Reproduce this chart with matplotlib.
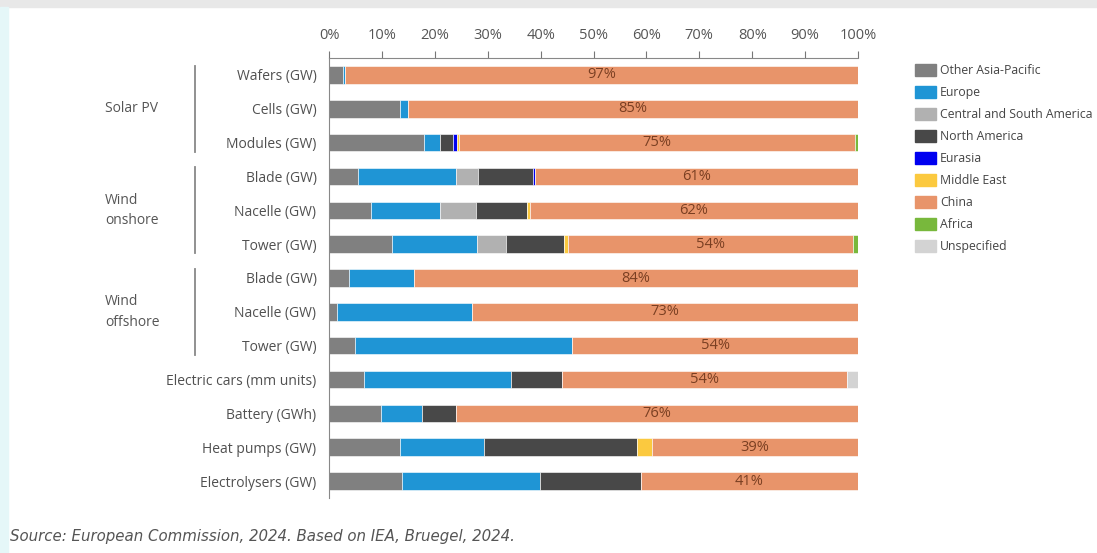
import matplotlib.pyplot as plt
import matplotlib.patches as mpatches
import numpy as np

plt.rcParams['font.family'] = ['Open Sans', 'DejaVu Sans']

rows = ["Wafers (GW)", "Cells (GW)", "Modules (GW)",
        "Blade (GW)", "Nacelle (GW)", "Tower (GW)",
        "Blade (GW)", "Nacelle (GW)", "Tower (GW)",
        "Electric cars (mm units)", "Battery (GWh)", "Heat pumps (GW)", "Electrolysers (GW)"]

regions = ["Other Asia-Pacific", "Europe", "Central and South America", "North America",
           "Eurasia", "Middle East", "China", "Africa", "Unspecified"]
colors = ["#808080", "#1f95d5", "#b1b1b1", "#484848",
          "#0000f0", "#fbc93f", "#e8946a", "#78b83c", "#d3d3d3"]

# shares in %, one list per region, in row order
other_ap = [2.7, 13.5, 18.0, 5.5, 8.0, 12.0, 3.8, 1.5, 5.0, 6.6, 9.8, 13.5, 13.8]
europe   = [0.3, 1.5, 3.0, 18.5, 13.0, 16.0, 12.2, 25.5, 41.0, 27.8, 7.8, 15.8, 26.0]
csa      = [0, 0, 0, 4.2, 6.8, 5.5, 0, 0, 0, 0, 0, 0, 0]
n_am     = [0, 0, 2.5, 10.3, 9.7, 11.0, 0, 0, 0, 9.6, 6.4, 29.0, 19.2]
eurasia  = [0, 0, 0.7, 0.5, 0, 0, 0, 0, 0, 0, 0, 0, 0]
mid_east = [0, 0, 0.3, 0, 0.5, 0.6, 0, 0, 0, 0, 0, 2.7, 0]
china    = [97, 85, 75, 61, 62, 54, 84, 73, 54, 54, 76, 39, 41]
africa   = [0, 0, 0.5, 0, 0, 0.9, 0, 0, 0, 0, 0, 0, 0]
unspec   = [0, 0, 0, 0, 0, 0, 0, 0, 0, 2.0, 0, 0, 0]
shares = [other_ap, europe, csa, n_am, eurasia, mid_east, china, africa, unspec]

groups = [("Solar PV", 0, 2), ("Wind\nonshore", 3, 5), ("Wind\noffshore", 6, 8)]

fig = plt.figure(figsize=(10.97, 5.53), dpi=100)
ax = fig.add_axes([329 / 1097, 1 - 498 / 553, 529 / 1097, 440 / 553])

y = np.arange(len(rows))
left = np.zeros(len(rows))
for name, vals, c in zip(regions, shares, colors):
    vals = np.array(vals, dtype=float)
    ax.barh(y, vals, left=left, height=0.52, color=c, label=name,
            edgecolor="white", linewidth=0.4)
    if name == "China":
        for yi, l, v in zip(y, left, vals):
            ax.text(l + v / 2, yi, f"{v:.0f}%", ha="center", va="center",
                    fontsize=10.5, color="#7a3f22")
    left += vals

ax.set_xlim(0, 100)
ax.set_ylim(len(rows) - 0.5, -0.5)
ax.set_yticks(y)
ax.set_yticklabels(rows, fontsize=10, color="#505050")
ax.tick_params(axis="y", length=0, pad=9)
ax.xaxis.tick_top()
ax.set_xticks(np.arange(0, 101, 10))
ax.set_xticklabels([f"{t}%" for t in range(0, 101, 10)], fontsize=10.5, color="#555555")
ax.tick_params(axis="x", length=5, color="#777777", pad=6)
for s in ["right", "bottom"]:
    ax.spines[s].set_visible(False)
ax.spines["top"].set_color("#888888")
ax.spines["left"].set_color("#888888")

# group brackets and labels
for label, a, b in groups:
    ax.plot([-25.3, -25.3], [a - 0.27, b + 0.27], color="#888888", lw=1.3,
            clip_on=False, transform=ax.transData)
    ax.text(-42.3, (a + b) / 2, label, ha="left", va="center", fontsize=10,
            color="#555555", linespacing=1.5)

handles = [mpatches.Patch(color=c, label=n) for n, c in zip(regions, colors)]
fig.legend(handles=handles, loc="upper left", bbox_to_anchor=(904 / 1097, 1 - 53 / 553),
           frameon=False, fontsize=8.8, handlelength=1.75, handleheight=1.15,
           handletextpad=0.3, labelspacing=0.72, labelcolor="#444444")

fig.text(10 / 1097, 1 - 537 / 553, "Source: European Commission, 2024. Based on IEA, Bruegel, 2024.",
         fontsize=10.8, style="italic", color="#555555", va="center", family=["DejaVu Sans"])

# light frame bands of the screenshot
fig.patches.append(mpatches.Rectangle((0, 1 - 7 / 553), 1, 7 / 553, transform=fig.transFigure,
                                      color="#e8e8e8", zorder=-1))
fig.patches.append(mpatches.Rectangle((0, 0), 8 / 1097, 1 - 7 / 553, transform=fig.transFigure,
                                      color="#e5f7f8", zorder=-1))

fig.savefig("out.png", dpi=100)
